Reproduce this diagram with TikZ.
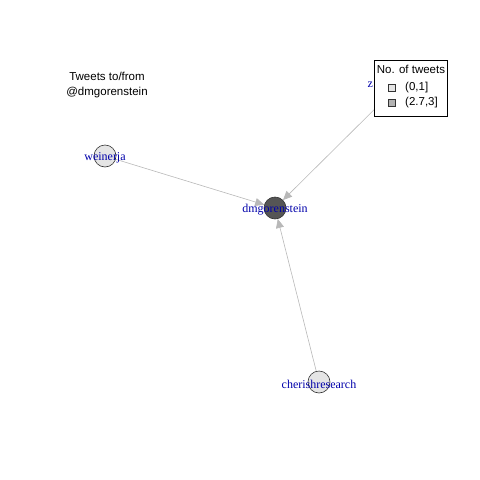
\documentclass[tikz,border=0pt]{standalone}
\usepackage{fontspec}
\setmainfont{Liberation Serif}
\setsansfont{Liberation Sans}
\usetikzlibrary{arrows.meta}
\definecolor{edgegray}{HTML}{B8B8B8}
\definecolor{lightnode}{HTML}{E5E5E5}
\definecolor{darknode}{HTML}{555555}
\definecolor{labelblue}{HTML}{0000AA}
\tikzset{
  vert/.style={circle,draw=black!80,line width=0.6pt,minimum size=22pt,inner sep=0pt},
  vlabel/.style={text=labelblue,font=\fontsize{12}{14}\selectfont,inner sep=0pt,yshift=-2pt},
  edge/.style={draw=edgegray,line width=0.6pt,-{Triangle[length=9pt,width=8pt,fill=edgegray]}},
  sanstext/.style={font=\sffamily\fontsize{11.5}{15}\selectfont,inner sep=0pt,align=center},
  legtext/.style={font=\sffamily\fontsize{11.5}{14}\selectfont,inner sep=0pt},
  keybox/.style={draw=black!80,line width=0.5pt,minimum size=7pt,inner sep=0pt}
}
\begin{document}
\begin{tikzpicture}[x=1pt,y=-1pt]
\useasboundingbox (0,0) rectangle (480,480);
\node[vert,fill=lightnode] (w) at (105,156) {};
\node[vert,fill=darknode] (d) at (275,208) {};
\node[vert,fill=lightnode] (c) at (319,382) {};
\node[vert,fill=lightnode] (z) at (401,83) {};
\draw[edge] (w) -- (d);
\draw[edge] (c) -- (d);
\draw[edge] (z) -- (d);
\node[vlabel] (wl) at (w) {weinerja};
\node[vlabel] (dl) at (d) {dmgorenstein};
\node[vlabel] (cl) at (c) {cherishresearch};
\node[vlabel,anchor=west] (zl) at (367.5,83) {z};
\node[sanstext] (title) at (107,85) {Tweets to/from\\@dmgorenstein};
\node[draw=black,fill=white,line width=0.6pt,minimum width=73pt,minimum height=56pt,inner sep=0pt] (legend) at (410.5,88) {};
\node[legtext] (lt) at (411,69) {No. of tweets};
\node[keybox,fill=lightnode] (k1) at (392,88) {};
\node[keybox,fill=black!30] (k2) at (392,103) {};
\node[legtext,anchor=west] (t1) at (405,88) {(0,1]};
\node[legtext,anchor=west] (t2) at (405,103) {(2.7,3]};
\end{tikzpicture}
\end{document}
